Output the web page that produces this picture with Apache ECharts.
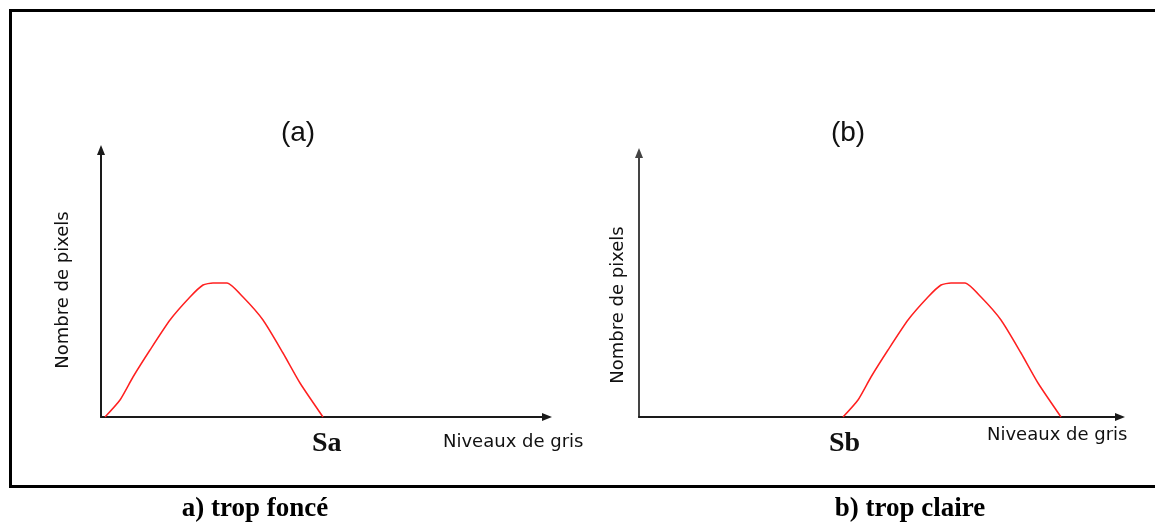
<!DOCTYPE html>
<html>
<head>
<meta charset="utf-8">
<script src="https://cdn.jsdelivr.net/npm/echarts@6/dist/echarts.min.js"></script>
<style>
html,body{margin:0;padding:0;background:#fff;}
#c{width:1155px;height:525px;}
</style>
</head>
<body>
<div id="c"></div>
<script>
// Histogram (a): dark image – grey levels (x) vs pixel count (y)
const xA = [4, 19, 32, 49, 69, 89, 102, 112, 126, 142, 162, 182, 199, 222];
const yA = [0, 17, 40, 67, 97, 120, 132, 134, 134, 120, 97, 64, 34, 0];
// Histogram (b): light image
const xB = [204, 219, 232, 249, 269, 289, 302, 312, 326, 342, 362, 382, 399, 422];
const yB = [0, 17, 40, 67, 97, 120, 132, 134, 134, 120, 97, 64, 34, 0];
const xMaxA = 446, yMaxA = 267;
const xMaxB = 481, yMaxB = 264;
const titles = ['(a)', '(b)'];
const yNames = ['Nombre de pixels', 'Nombre de pixels'];
const xNames = ['Niveaux de gris', 'Niveaux de gris'];
const thresholds = ['Sa', 'Sb'];
const captions = ['a) trop foncé', 'b) trop claire'];

const pairs = (xs, ys) => xs.map((x, i) => [x, ys[i]]);
function ax(idx, max, color) {
  return { type: 'value', gridIndex: idx, min: 0, max: max,
    axisLine: { show: true, symbol: ['none', 'triangle'], symbolSize: [8, 10],
      lineStyle: { color: color, width: 2 } },
    axisTick: { show: false }, axisLabel: { show: false }, splitLine: { show: false } };
}
const sans = '"DejaVu Sans", Verdana, sans-serif';
const arial = '"Liberation Sans", Arial, sans-serif';
const serif = '"Liberation Serif", "Times New Roman", serif';
function txt(text, x, y, opts) {
  return { type: 'text', x: x, y: y, silent: true, style: Object.assign({
    text: text, fill: '#111', font: '18px ' + sans, textAlign: 'left', textVerticalAlign: 'middle'
  }, opts || {}) };
}

const chart = echarts.init(document.getElementById('c'), null, { renderer: 'canvas' });
chart.setOption({
  animation: false,
  backgroundColor: '#fff',
  grid: [
    { left: 101, top: 150, width: 446, height: 267 },
    { left: 639, top: 153, width: 481, height: 264 }
  ],
  xAxis: [ax(0, xMaxA, '#1a1a1a'), ax(1, xMaxB, '#1a1a1a')],
  yAxis: [ax(0, yMaxA, '#1a1a1a'), ax(1, yMaxB, '#444')],
  series: [
    { type: 'line', xAxisIndex: 0, yAxisIndex: 0, data: pairs(xA, yA), smooth: 0.2,
      showSymbol: false, lineStyle: { color: '#ff2020', width: 1.5 } },
    { type: 'line', xAxisIndex: 1, yAxisIndex: 1, data: pairs(xB, yB), smooth: 0.2,
      showSymbol: false, lineStyle: { color: '#ff2020', width: 1.5 } }
  ],
  graphic: [
    { type: 'rect', silent: true, shape: { x: 10.5, y: 10.5, width: 1160, height: 476 },
      style: { fill: 'none', stroke: '#000', lineWidth: 3 } },
    txt(titles[0], 298, 133, { font: '28px ' + arial, textAlign: 'center' }),
    txt(titles[1], 848, 133, { font: '28px ' + arial, textAlign: 'center' }),
    { type: 'text', x: 63, y: 290, rotation: Math.PI / 2, silent: true,
      style: { text: yNames[0], fill: '#111', font: '18px ' + sans, textAlign: 'center', textVerticalAlign: 'middle' } },
    { type: 'text', x: 618, y: 305, rotation: Math.PI / 2, silent: true,
      style: { text: yNames[1], fill: '#111', font: '18px ' + sans, textAlign: 'center', textVerticalAlign: 'middle' } },
    txt(xNames[0], 443, 442),
    txt(xNames[1], 987, 435),
    txt(thresholds[0], 312, 444, { font: 'bold 28px ' + serif }),
    txt(thresholds[1], 829, 444, { font: 'bold 28px ' + serif }),
    txt(captions[0], 255, 509, { font: 'bold 27px ' + serif, textAlign: 'center', fill: '#000' }),
    txt(captions[1], 910, 509, { font: 'bold 27px ' + serif, textAlign: 'center', fill: '#000' })
  ]
});
</script>
</body>
</html>
